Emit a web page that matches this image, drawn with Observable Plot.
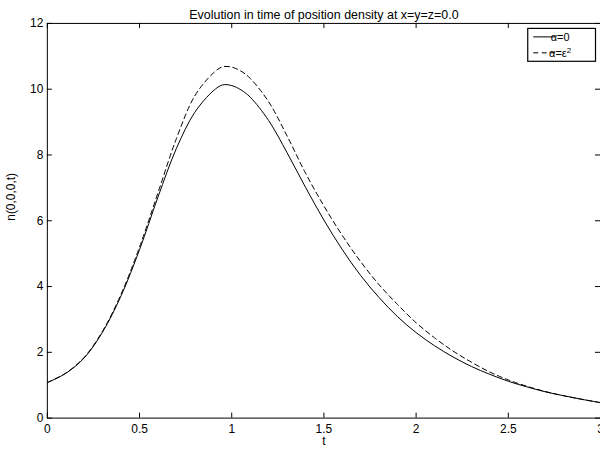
<!DOCTYPE html>
<html><head><meta charset="utf-8">
<script src="https://cdn.jsdelivr.net/npm/d3@7"></script>
<script src="https://cdn.jsdelivr.net/npm/@observablehq/plot@0.6"></script>
<style>html,body{margin:0;padding:0;overflow:hidden;background:#fff}</style>
</head><body><div id="chart"></div>
<script>
const chartTitle = "Evolution in time of position density at x=y=z=0.0";
const xLabel = "t";
const yLabel = "n(0,0,0,t)";
const seriesNames = ["α=0", "α=ε2"];
const tValues = [0,0.1,0.2,0.3,0.4,0.5,0.6,0.7,0.8,0.9,0.95,1.0,1.05,1.1,1.2,1.3,1.4,1.5,1.6,1.7,1.8,1.9,2.0,2.1,2.2,2.3,2.4,2.5,2.6,2.7,2.8,2.9,3.0];
const nAlpha0 = [1.08,1.36,1.83,2.62,3.72,5.12,6.72,8.2,9.3,9.95,10.13,10.11,9.98,9.76,9.05,8.07,7.02,6.02,5.12,4.33,3.66,3.08,2.6,2.2,1.86,1.57,1.33,1.12,0.95,0.80,0.68,0.57,0.47];
const nAlphaEps2 = [1.08,1.37,1.85,2.65,3.77,5.2,6.85,8.5,9.8,10.49,10.68,10.67,10.55,10.33,9.62,8.58,7.45,6.45,5.55,4.75,4.05,3.45,2.9,2.44,2.04,1.7,1.4,1.16,0.97,0.81,0.68,0.57,0.47];
const xTicks = [0,0.5,1,1.5,2,2.5,3];
const yTicks = [0,2,4,6,8,10,12];

const solid = tValues.map((t,i)=>({t, n:nAlpha0[i]}));
const dashed = tValues.map((t,i)=>({t, n:nAlphaEps2[i]}));
const fmt = d3.format("~g");

const W = 602, H = 449, mL = 47, mR = 0, mT = 23, mB = 30, tick = 5;
const frameW = W - mL - mR, frameH = H - mT - mB;

const plot = Plot.plot({
  width: W, height: H,
  marginLeft: mL, marginRight: mR, marginTop: mT, marginBottom: mB,
  style: {fontFamily: "'Liberation Sans', Arial, sans-serif", fontSize: "12px", background: "white", color: "black"},
  x: {domain: [0, 3]},
  y: {domain: [0, 12]},
  marks: [
    Plot.axisX(xTicks, {tickSize: 0, tickPadding: 6, tickFormat: fmt, label: null}),
    Plot.axisY(yTicks, {tickSize: 0, tickPadding: 4, tickFormat: fmt, label: null}),
    // inward ticks on all four sides (MATLAB box style)
    Plot.ruleX(xTicks, {stroke: "black", insetTop: frameH - tick}),
    Plot.ruleX(xTicks, {stroke: "black", insetBottom: frameH - tick}),
    Plot.ruleY(yTicks, {stroke: "black", insetRight: frameW - tick}),
    Plot.ruleY(yTicks, {stroke: "black", insetLeft: frameW - tick}),
    Plot.frame({stroke: "black", strokeWidth: 1}),
    Plot.line(solid, {x: "t", y: "n", stroke: "black", strokeWidth: 1, curve: "catmull-rom"}),
    Plot.line(dashed, {x: "t", y: "n", stroke: "black", strokeWidth: 1, strokeDasharray: "5,3.5", curve: "catmull-rom"}),
    Plot.text([chartTitle], {frameAnchor: "top", dy: -13, fontSize: 12.5}),
    Plot.text([xLabel], {frameAnchor: "bottom", dy: 27, fontSize: 12}),
    Plot.text([yLabel], {frameAnchor: "left", rotate: -90, dx: -36, fontSize: 12})
  ]
});
document.getElementById("chart").appendChild(plot);

// legend (MATLAB-style box, top right)
const svg = d3.select(plot);
const lg = svg.append("g").attr("font-family", "'Liberation Sans', Arial, sans-serif").attr("font-size", 11);
lg.append("rect").attr("x", 529.5).attr("y", 28.5).attr("width", 68).attr("height", 33)
  .attr("fill", "white").attr("stroke", "black").attr("stroke-width", 1.2);
const dashes = [null, "5,3.5"];
seriesNames.forEach((name, i) => {
  const y = 37 + i * 16;
  lg.append("line").attr("x1", 535).attr("x2", 557).attr("y1", y).attr("y2", y)
    .attr("stroke", "black").attr("stroke-width", 1).attr("stroke-dasharray", dashes[i]);
  const tx = lg.append("text").attr("x", 562).attr("y", y).attr("dy", "0.35em");
  if (i === 0) tx.text(name);
  else {
    tx.append("tspan").text("α=ε");
    tx.append("tspan").attr("dy", "-0.45em").attr("font-size", 8).text("2");
  }
});
</script></body></html>
